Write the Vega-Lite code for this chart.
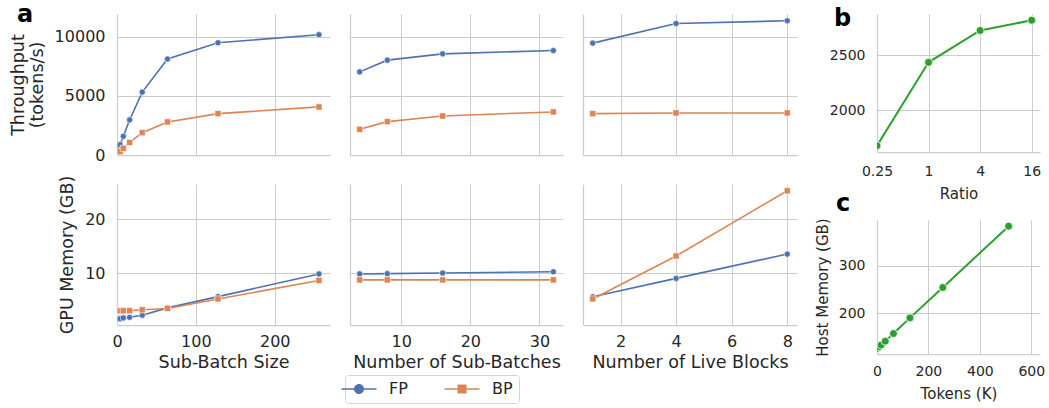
{
  "$schema": "https://vega.github.io/schema/vega-lite/v6.json",
  "background": "white",
  "padding": {"left": 9, "top": 3, "right": 5, "bottom": 2},
  "datasets": {
    "subBatch": [
      {"size": 1, "phase": "FP", "throughput": 300, "memory": 1.6},
      {"size": 2, "phase": "FP", "throughput": 560, "memory": 1.62},
      {"size": 4, "phase": "FP", "throughput": 880, "memory": 1.66},
      {"size": 8, "phase": "FP", "throughput": 1580, "memory": 1.8},
      {"size": 16, "phase": "FP", "throughput": 2966, "memory": 1.92},
      {"size": 32, "phase": "FP", "throughput": 5320, "memory": 2.3},
      {"size": 64, "phase": "FP", "throughput": 8120, "memory": 3.65},
      {"size": 128, "phase": "FP", "throughput": 9500, "memory": 5.72},
      {"size": 256, "phase": "FP", "throughput": 10180, "memory": 9.9},
      {"size": 1, "phase": "BP", "throughput": 120, "memory": 3.1},
      {"size": 2, "phase": "BP", "throughput": 240, "memory": 3.1},
      {"size": 4, "phase": "BP", "throughput": 310, "memory": 3.1},
      {"size": 8, "phase": "BP", "throughput": 567, "memory": 3.12},
      {"size": 16, "phase": "BP", "throughput": 1060, "memory": 3.14},
      {"size": 32, "phase": "BP", "throughput": 1890, "memory": 3.3},
      {"size": 64, "phase": "BP", "throughput": 2800, "memory": 3.55},
      {"size": 128, "phase": "BP", "throughput": 3500, "memory": 5.3},
      {"size": 256, "phase": "BP", "throughput": 4070, "memory": 8.7}
    ],
    "subBatches": [
      {"batches": 4, "phase": "FP", "throughput": 7034, "memory": 9.9},
      {"batches": 8, "phase": "FP", "throughput": 8025, "memory": 9.95},
      {"batches": 16, "phase": "FP", "throughput": 8559, "memory": 10.07},
      {"batches": 32, "phase": "FP", "throughput": 8840, "memory": 10.3},
      {"batches": 4, "phase": "BP", "throughput": 2175, "memory": 8.8},
      {"batches": 8, "phase": "BP", "throughput": 2825, "memory": 8.8},
      {"batches": 16, "phase": "BP", "throughput": 3305, "memory": 8.8},
      {"batches": 32, "phase": "BP", "throughput": 3644, "memory": 8.8}
    ],
    "liveBlocks": [
      {"blocks": 1, "phase": "FP", "throughput": 9466, "memory": 5.7},
      {"blocks": 4, "phase": "FP", "throughput": 11127, "memory": 9.08},
      {"blocks": 8, "phase": "FP", "throughput": 11356, "memory": 13.55},
      {"blocks": 1, "phase": "BP", "throughput": 3500, "memory": 5.3},
      {"blocks": 4, "phase": "BP", "throughput": 3560, "memory": 13.2},
      {"blocks": 8, "phase": "BP", "throughput": 3560, "memory": 25.2}
    ],
    "ratio": [
      {"ratio": 0.25, "throughput": 1676},
      {"ratio": 1, "throughput": 2435},
      {"ratio": 4, "throughput": 2725},
      {"ratio": 16, "throughput": 2818}
    ],
    "tokens": [
      {"tokens": 2, "host": 126},
      {"tokens": 8, "host": 129},
      {"tokens": 16, "host": 133},
      {"tokens": 32, "host": 141},
      {"tokens": 64, "host": 157},
      {"tokens": 128, "host": 190},
      {"tokens": 256, "host": 254},
      {"tokens": 512, "host": 383}
    ]
  },
  "hconcat": [
    {
      "concat": [
        {
          "width": 213, "height": 141,
          "data": {"name": "subBatch"},
          "title": {"text": "a", "dx": -100, "dy": 6, "offset": -26, "baseline": "alphabetic"},
          "encoding": {
            "x": {"field": "size", "type": "quantitative", "scale": {"domain": [0, 270], "nice": false, "zero": false}, "axis": {"values": [0, 100, 200], "labels": false, "title": null}},
            "y": {"field": "throughput", "type": "quantitative", "scale": {"domain": [0, 11930], "nice": false, "zero": false}, "axis": {"values": [0, 5000, 10000], "format": "d", "title": ["Throughput", "(tokens/s)"]}},
            "color": {"field": "phase", "type": "nominal", "scale": {"domain": ["FP", "BP"], "range": ["#4C72B0", "#DD8452"]},
              "legend": {"title": null, "orient": "none", "legendX": 228, "legendY": 361, "direction": "horizontal", "symbolSize": 196, "symbolOpacity": 1, "symbolStrokeWidth": 0, "labelFontSize": 16, "labelColor": "#262626", "labelOffset": 22, "columnPadding": 36, "padding": 6, "strokeColor": "#d5d5d5", "cornerRadius": 3, "fillColor": "white"}}
          },
          "layer": [
            {"mark": {"type": "line", "strokeWidth": 1.6, "clip": true}},
            {"mark": {"type": "point", "filled": true, "opacity": 1, "size": 38, "stroke": "white", "strokeWidth": 0.6, "clip": true},
             "encoding": {"shape": {"condition": {"test": "datum.phase === 'FP'", "value": "circle"}, "value": "square"}}},
            {"mark": {"type": "point", "filled": true, "opacity": 0, "size": 38, "clip": true},
             "encoding": {"shape": {"field": "phase", "type": "nominal", "scale": {"domain": ["FP", "BP"], "range": ["M-2.5,-0.12H-0.7V0.12H-2.5Z M0.7,-0.12H2.5V0.12H0.7Z M-0.714,0A0.714,0.714,0,1,1,0.714,0A0.714,0.714,0,1,1,-0.714,0Z", "M-2.5,-0.12H-0.65V0.12H-2.5Z M0.65,-0.12H2.5V0.12H0.65Z M-0.65,-0.65H0.65V0.65H-0.65Z"]},
               "legend": {"title": null, "orient": "none", "legendX": 228, "legendY": 361, "direction": "horizontal", "symbolSize": 196, "symbolOpacity": 1, "symbolStrokeWidth": 0, "labelFontSize": 16, "labelColor": "#262626", "labelOffset": 22, "columnPadding": 36, "padding": 6, "strokeColor": "#d5d5d5", "cornerRadius": 3, "fillColor": "white"}}}}
          ]
        },
        {
          "width": 213, "height": 141,
          "data": {"name": "subBatches"},
          "encoding": {
            "x": {"field": "batches", "type": "quantitative", "scale": {"domain": [2.6, 33.4], "nice": false, "zero": false}, "axis": {"values": [10, 20, 30], "labels": false, "title": null}},
            "y": {"field": "throughput", "type": "quantitative", "scale": {"domain": [0, 11930], "nice": false, "zero": false}, "axis": {"values": [0, 5000, 10000], "labels": false, "title": null}},
            "color": {"field": "phase", "type": "nominal", "scale": {"domain": ["FP", "BP"], "range": ["#4C72B0", "#DD8452"]}}
          },
          "layer": [
            {"mark": {"type": "line", "strokeWidth": 1.6, "clip": true}},
            {"mark": {"type": "point", "filled": true, "opacity": 1, "size": 38, "stroke": "white", "strokeWidth": 0.6, "clip": true},
             "encoding": {"shape": {"condition": {"test": "datum.phase === 'FP'", "value": "circle"}, "value": "square"}}}
          ]
        },
        {
          "width": 214, "height": 141,
          "data": {"name": "liveBlocks"},
          "encoding": {
            "x": {"field": "blocks", "type": "quantitative", "scale": {"domain": [0.65, 8.35], "nice": false, "zero": false}, "axis": {"values": [2, 4, 6, 8], "labels": false, "title": null}},
            "y": {"field": "throughput", "type": "quantitative", "scale": {"domain": [0, 11930], "nice": false, "zero": false}, "axis": {"values": [0, 5000, 10000], "labels": false, "title": null}},
            "color": {"field": "phase", "type": "nominal", "scale": {"domain": ["FP", "BP"], "range": ["#4C72B0", "#DD8452"]}}
          },
          "layer": [
            {"mark": {"type": "line", "strokeWidth": 1.6, "clip": true}},
            {"mark": {"type": "point", "filled": true, "opacity": 1, "size": 38, "stroke": "white", "strokeWidth": 0.6, "clip": true},
             "encoding": {"shape": {"condition": {"test": "datum.phase === 'FP'", "value": "circle"}, "value": "square"}}}
          ]
        },
        {
          "width": 213, "height": 141,
          "data": {"name": "subBatch"},
          "encoding": {
            "x": {"field": "size", "type": "quantitative", "scale": {"domain": [0, 270], "nice": false, "zero": false}, "axis": {"values": [0, 100, 200], "title": "Sub-Batch Size"}},
            "y": {"field": "memory", "type": "quantitative", "scale": {"domain": [0.5, 26.45], "nice": false, "zero": false}, "axis": {"values": [10, 20], "title": "GPU Memory (GB)"}},
            "color": {"field": "phase", "type": "nominal", "scale": {"domain": ["FP", "BP"], "range": ["#4C72B0", "#DD8452"]}}
          },
          "layer": [
            {"mark": {"type": "line", "strokeWidth": 1.6, "clip": true}},
            {"mark": {"type": "point", "filled": true, "opacity": 1, "size": 38, "stroke": "white", "strokeWidth": 0.6, "clip": true},
             "encoding": {"shape": {"condition": {"test": "datum.phase === 'FP'", "value": "circle"}, "value": "square"}}}
          ]
        },
        {
          "width": 213, "height": 141,
          "data": {"name": "subBatches"},
          "encoding": {
            "x": {"field": "batches", "type": "quantitative", "scale": {"domain": [2.6, 33.4], "nice": false, "zero": false}, "axis": {"values": [10, 20, 30], "title": "Number of Sub-Batches"}},
            "y": {"field": "memory", "type": "quantitative", "scale": {"domain": [0.5, 26.45], "nice": false, "zero": false}, "axis": {"values": [10, 20], "labels": false, "title": null}},
            "color": {"field": "phase", "type": "nominal", "scale": {"domain": ["FP", "BP"], "range": ["#4C72B0", "#DD8452"]}}
          },
          "layer": [
            {"mark": {"type": "line", "strokeWidth": 1.6, "clip": true}},
            {"mark": {"type": "point", "filled": true, "opacity": 1, "size": 38, "stroke": "white", "strokeWidth": 0.6, "clip": true},
             "encoding": {"shape": {"condition": {"test": "datum.phase === 'FP'", "value": "circle"}, "value": "square"}}}
          ]
        },
        {
          "width": 214, "height": 141,
          "data": {"name": "liveBlocks"},
          "encoding": {
            "x": {"field": "blocks", "type": "quantitative", "scale": {"domain": [0.65, 8.35], "nice": false, "zero": false}, "axis": {"values": [2, 4, 6, 8], "title": "Number of Live Blocks"}},
            "y": {"field": "memory", "type": "quantitative", "scale": {"domain": [0.5, 26.45], "nice": false, "zero": false}, "axis": {"values": [10, 20], "labels": false, "title": null}},
            "color": {"field": "phase", "type": "nominal", "scale": {"domain": ["FP", "BP"], "range": ["#4C72B0", "#DD8452"]}}
          },
          "layer": [
            {"mark": {"type": "line", "strokeWidth": 1.6, "clip": true}},
            {"mark": {"type": "point", "filled": true, "opacity": 1, "size": 38, "stroke": "white", "strokeWidth": 0.6, "clip": true},
             "encoding": {"shape": {"condition": {"test": "datum.phase === 'FP'", "value": "circle"}, "value": "square"}}}
          ]
        }
      ],
      "columns": 3,
      "spacing": {"row": 29, "column": 20},
      "bounds": "flush"
    },
    {
      "vconcat": [
        {
          "width": 163, "height": 138,
          "data": {"name": "ratio"},
          "title": {"text": "b", "dx": -43, "dy": 11, "offset": -25, "baseline": "alphabetic"},
          "encoding": {
            "x": {"field": "ratio", "type": "quantitative", "scale": {"type": "log", "base": 2, "domain": [0.25, 20], "nice": false}, "axis": {"values": [0.25, 1, 4, 16], "format": "~g", "title": "Ratio", "labelFontSize": 14, "titleFontSize": 15, "labelPadding": 12, "titlePadding": 8}},
            "y": {"field": "throughput", "type": "quantitative", "scale": {"domain": [1619, 2875], "nice": false, "zero": false}, "axis": {"values": [2000, 2500], "format": "d", "title": null, "labelFontSize": 14, "labelPadding": 12}}
          },
          "layer": [
            {"mark": {"type": "line", "color": "#2ca02c", "strokeWidth": 2, "clip": true}},
            {"mark": {"type": "circle", "fill": "#2ca02c", "opacity": 1, "fillOpacity": 1, "size": 64, "stroke": "white", "strokeWidth": 0.8, "clip": true}}
          ]
        },
        {
          "width": 163, "height": 134,
          "data": {"name": "tokens"},
          "title": {"text": "c", "dx": -41, "dy": -10, "offset": -27, "baseline": "alphabetic"},
          "encoding": {
            "x": {"field": "tokens", "type": "quantitative", "scale": {"domain": [0, 634], "nice": false, "zero": false}, "axis": {"values": [0, 200, 400, 600], "title": "Tokens (K)", "labelFontSize": 14, "titleFontSize": 15, "labelPadding": 10, "titlePadding": 8}},
            "y": {"field": "host", "type": "quantitative", "scale": {"domain": [114, 396], "nice": false, "zero": false}, "axis": {"values": [200, 300], "title": "Host Memory (GB)", "labelFontSize": 14, "titleFontSize": 15, "labelPadding": 12, "titlePadding": 8}}
          },
          "layer": [
            {"mark": {"type": "line", "color": "#2ca02c", "strokeWidth": 2, "clip": true}},
            {"mark": {"type": "circle", "fill": "#2ca02c", "opacity": 1, "fillOpacity": 1, "size": 64, "stroke": "white", "strokeWidth": 0.8, "clip": true}}
          ]
        }
      ],
      "spacing": 68,
      "bounds": "flush"
    }
  ],
  "spacing": 18,
  "config": {
    "view": {"stroke": null},
    "font": "DejaVu Sans",
    "axis": {"grid": true, "gridColor": "#cccccc", "gridWidth": 1, "domain": true, "domainColor": "#cccccc", "domainWidth": 1.25, "ticks": false, "tickSize": 0, "labelFlush": false, "labelOverlap": false, "labelColor": "#262626", "titleColor": "#262626", "labelFontSize": 16, "titleFontSize": 17.5, "titleFontWeight": "normal", "labelFont": "DejaVu Sans", "titleFont": "DejaVu Sans"},
    "axisX": {"labelPadding": 8, "titlePadding": 4},
    "axisY": {"labelPadding": 12, "titlePadding": 8, "titleLineHeight": 19},
    "title": {"font": "DejaVu Sans", "fontWeight": "bold", "fontSize": 24, "color": "#000000", "anchor": "start", "frame": "group", "offset": 0}
  }
}
